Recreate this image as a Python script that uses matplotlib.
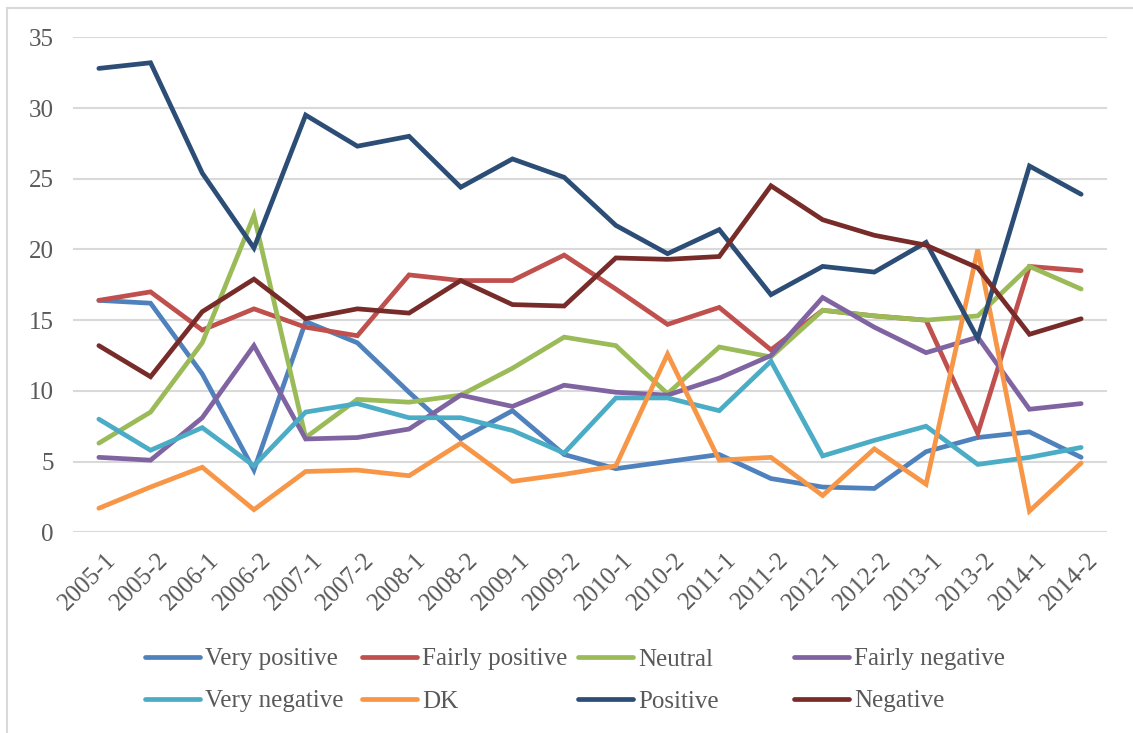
import matplotlib
matplotlib.use("Agg")
import matplotlib.pyplot as plt
from matplotlib.lines import Line2D
from matplotlib.transforms import ScaledTranslation

periods = ["2005-1", "2005-2", "2006-1", "2006-2", "2007-1", "2007-2", "2008-1", "2008-2",
           "2009-1", "2009-2", "2010-1", "2010-2", "2011-1", "2011-2", "2012-1", "2012-2",
           "2013-1", "2013-2", "2014-1", "2014-2"]

very_positive = [16.4, 16.2, 11.2, 4.4, 14.9, 13.4, 9.9, 6.6, 8.6, 5.5,
                 4.5, 5.0, 5.5, 3.8, 3.2, 3.1, 5.7, 6.7, 7.1, 5.3]
fairly_positive = [16.4, 17.0, 14.3, 15.8, 14.5, 13.9, 18.2, 17.8, 17.8, 19.6,
                   17.2, 14.7, 15.9, 12.9, 15.7, 15.3, 15.0, 7.0, 18.8, 18.5]
neutral = [6.3, 8.5, 13.4, 22.4, 6.7, 9.4, 9.2, 9.7, 11.6, 13.8,
           13.2, 9.8, 13.1, 12.4, 15.7, 15.3, 15.0, 15.3, 18.8, 17.2]
fairly_negative = [5.3, 5.1, 8.1, 13.2, 6.6, 6.7, 7.3, 9.7, 8.9, 10.4,
                   9.9, 9.7, 10.9, 12.5, 16.6, 14.5, 12.7, 13.8, 8.7, 9.1]
very_negative = [8.0, 5.8, 7.4, 4.7, 8.5, 9.1, 8.1, 8.1, 7.2, 5.6,
                 9.5, 9.5, 8.6, 12.1, 5.4, 6.5, 7.5, 4.8, 5.3, 6.0]
dk = [1.7, 3.2, 4.6, 1.6, 4.3, 4.4, 4.0, 6.3, 3.6, 4.1,
      4.7, 12.6, 5.1, 5.3, 2.6, 5.9, 3.4, 20.0, 1.5, 4.9]
positive = [32.8, 33.2, 25.4, 20.1, 29.5, 27.3, 28.0, 24.4, 26.4, 25.1,
            21.7, 19.7, 21.4, 16.8, 18.8, 18.4, 20.5, 13.7, 25.9, 23.9]
negative = [13.2, 11.0, 15.6, 17.9, 15.1, 15.8, 15.5, 17.8, 16.1, 16.0,
            19.4, 19.3, 19.5, 24.5, 22.1, 21.0, 20.3, 18.7, 14.0, 15.1]

series_names = ["Very positive", "Fairly positive", "Neutral", "Fairly negative",
                "Very negative", "DK", "Positive", "Negative"]
series_values = [very_positive, fairly_positive, neutral, fairly_negative,
                 very_negative, dk, positive, negative]
colors = ["#4F81BD", "#C0504D", "#9BBB59", "#8064A2",
          "#4BACC6", "#F79646", "#2C4D75", "#772C2A"]

plt.rcParams['font.family'] = ['Liberation Serif', 'DejaVu Serif']
text_color = "#595959"

W, H = 1133, 733
fig = plt.figure(figsize=(W / 100, H / 100), dpi=100)
ax = fig.add_axes([73 / W, 1 - 532.3 / H, (1107 - 73) / W, (532.3 - 37.3) / H])

x = list(range(len(periods)))
handles = []
for name, vals, c in zip(series_names, series_values, colors):
    h, = ax.plot(x, vals, color=c, lw=3.4, solid_joinstyle='miter',
                 solid_capstyle='round', label=name, zorder=3)
    handles.append(h)

ax.set_xlim(-0.5, len(periods) - 0.5)
ax.set_ylim(0, 35)
ax.set_yticks(range(0, 36, 5))
ax.set_xticks(x)
ax.set_xticklabels(periods, rotation=45, ha='right', rotation_mode='anchor')
ax.grid(axis='y', color='#D9D9D9', lw=1.5, zorder=0)
ax.tick_params(axis='both', length=0, labelsize=18, colors=text_color)
ax.tick_params(axis='y', pad=14)
ax.tick_params(axis='x', pad=12)
shift = ScaledTranslation(6 / 100, 0, fig.dpi_scale_trans)
for lbl in ax.get_xticklabels():
    lbl.set_transform(lbl.get_transform() + shift)
for s in ax.spines.values():
    s.set_visible(False)

# Legend: four columns of two entries, row-major order as in the reference
col_x = [145, 362, 578, 794]
for ci in range(4):
    hs = [handles[ci], handles[ci + 4]]
    fig.legend(hs, [h.get_label() for h in hs], loc='upper left',
               bbox_to_anchor=(col_x[ci] / W, 1 - 648 / H), frameon=False,
               fontsize=18, handlelength=2.2, handletextpad=0.2,
               labelspacing=0.78, borderaxespad=0, borderpad=0,
               labelcolor=text_color)

# Light chart border (left and top visible)
fig.add_artist(Line2D([7 / W, 7 / W], [0, 1 - 8 / H], color='#D9D9D9', lw=1.5))
fig.add_artist(Line2D([7 / W, 1], [1 - 8 / H, 1 - 8 / H], color='#D9D9D9', lw=1.5))

fig.savefig("out.png", dpi=100)
